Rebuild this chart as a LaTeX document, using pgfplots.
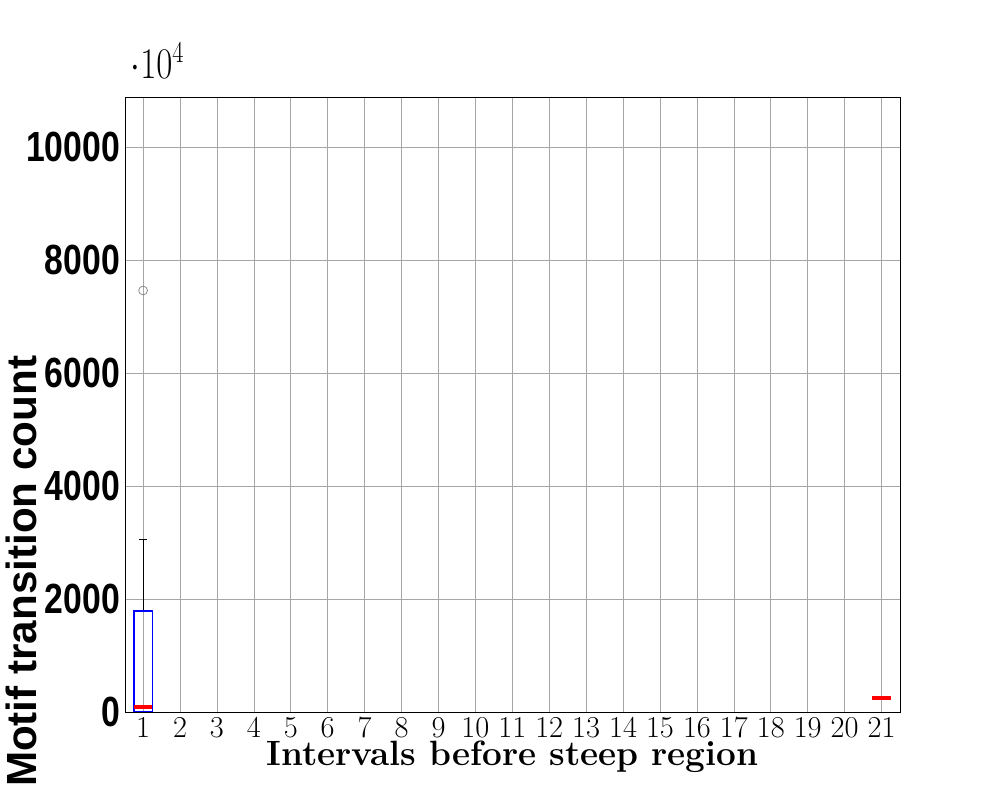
\documentclass[border=0pt]{standalone}
\usepackage{pgfplots}
\pgfplotsset{compat=1.18}
\usepgfplotslibrary{statistics}
\usepackage{fontspec}
\newfontfamily\tickfont{Liberation Sans}
\begin{document}
\begin{tikzpicture}
\path[use as bounding box,fill=white] (0,0) rectangle (200mm,160mm);
\begin{axis}[at={(25mm,17.6mm)},anchor=south west,scale only axis,
 width=155mm,height=123mm,
 xmin=0.51,xmax=21.5,ymin=0,ymax=10885,
 xtick={1,...,21},ytick={0,2000,4000,6000,8000,10000},
 yticklabels={0,2000,4000,6000,8000,10000},
 grid=major,grid style={gray!70},
 tick style={draw=none},
 x tick label style={font=\fontsize{19}{19}\selectfont},
 y tick label style={font=\tickfont\bfseries\fontsize{24}{24}\selectfont,xscale=0.8},
 xlabel={\fontsize{20}{20}\selectfont\bfseries Intervals before steep region},
 ylabel={\tickfont\bfseries\fontsize{24}{24}\selectfont Motif transition count},
 xlabel style={yshift=5pt},
 every axis y label/.append style={at={(ticklabel cs:0.5)},anchor=center,xshift=-95pt},
 boxplot/draw direction=y,
 boxplot/box extend=0.5,
]
\addplot[blue,thick,
 boxplot prepared={lower whisker=0,lower quartile=0,median=90,upper quartile=1790,upper whisker=3060,draw position=1,whisker extend=0.2},
 boxplot/every median/.style={red,line width=2.5pt},
 boxplot/every whisker/.style={black,thin},
 mark=o,mark options={gray,thin},mark size=2.5pt]
 coordinates {(0,7460)};
\addplot[blue,thick,
 boxplot prepared={lower whisker=250,lower quartile=250,median=250,upper quartile=250,upper whisker=250,draw position=21,whisker extend=0.2},
 boxplot/every median/.style={red,line width=2.5pt},
 boxplot/every whisker/.style={black,thin}]
 coordinates {};
\end{axis}
\end{tikzpicture}
\end{document}
